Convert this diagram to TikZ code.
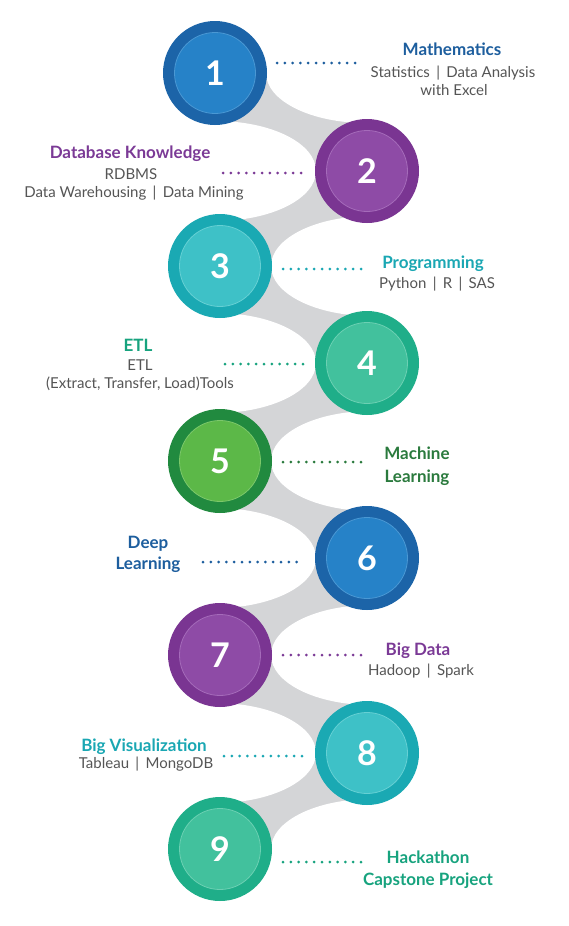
\documentclass[tikz,border=0pt]{standalone}
\usepackage{fontspec}
\setmainfont{Lato}
\definecolor{bandgrey}{HTML}{D4D5D7}
\definecolor{blueO}{HTML}{1C64A8}\definecolor{blueI}{HTML}{2682C8}\definecolor{blueR}{HTML}{4A98D4}
\definecolor{purO}{HTML}{7A3592}\definecolor{purI}{HTML}{8E4BA6}\definecolor{purR}{HTML}{A56BBA}
\definecolor{tealO}{HTML}{1AA9B3}\definecolor{tealI}{HTML}{3EC1C7}\definecolor{tealR}{HTML}{66D0D4}
\definecolor{mintO}{HTML}{1FAE89}\definecolor{mintI}{HTML}{42C19D}\definecolor{mintR}{HTML}{6CD0B3}
\definecolor{grnO}{HTML}{218A3F}\definecolor{grnI}{HTML}{5CB848}\definecolor{grnR}{HTML}{7CC86A}
\definecolor{tBlue}{HTML}{1D5E9E}\definecolor{tPur}{HTML}{7B3A96}\definecolor{tTeal}{HTML}{1AA7B3}
\definecolor{tMint}{HTML}{17A37E}\definecolor{tGrn}{HTML}{2A7A3D}\definecolor{body}{HTML}{555555}
\tikzset{
  outerc/.style={circle,inner sep=0pt,minimum size=104pt},
  innerc/.style={circle,inner sep=0pt,minimum size=81pt,line width=0.8pt,text=white,
     font=\bfseries\fontsize{34}{34}\selectfont},
  ttl/.style={anchor=base,inner sep=0pt,font=\bfseries\fontsize{17}{17}\selectfont},
  bdy/.style={anchor=base,inner sep=0pt,text=body,font=\fontsize{15}{15}\selectfont},
  dots/.style={line width=3pt,line cap=round,dash pattern=on 0pt off 7.8pt},
}
\begin{document}
\begin{tikzpicture}[x=1pt,y=-1pt]
\useasboundingbox (0,0) rectangle (568,926);
\fill[white] (0,0) rectangle (568,926);
% grey band
\fill[bandgrey] (218,73) rectangle (367,849);
% white cut-outs
\foreach \y/\x in {73/215,266/220,461/220,655/220,849/220}
  \fill[white] (\x+51+100,\y) ellipse [x radius=100, y radius=50];
\foreach \y in {171,363,558,753}
  \fill[white] (367-51-100,\y) ellipse [x radius=100, y radius=50];
% circles
\node[outerc,fill=blueO] (c1) at (215,73) {};
\node[innerc,fill=blueI,draw=blueR] (n1) at (c1) {1};
\node[outerc,fill=purO] (c2) at (367,171) {};
\node[innerc,fill=purI,draw=purR] (n2) at (c2) {2};
\node[outerc,fill=tealO] (c3) at (220,266) {};
\node[innerc,fill=tealI,draw=tealR] (n3) at (c3) {3};
\node[outerc,fill=mintO] (c4) at (367,363) {};
\node[innerc,fill=mintI,draw=mintR] (n4) at (c4) {4};
\node[outerc,fill=grnO] (c5) at (220,461) {};
\node[innerc,fill=grnI,draw=grnR] (n5) at (c5) {5};
\node[outerc,fill=blueO] (c6) at (367,558) {};
\node[innerc,fill=blueI,draw=blueR] (n6) at (c6) {6};
\node[outerc,fill=purO] (c7) at (220,655) {};
\node[innerc,fill=purI,draw=purR] (n7) at (c7) {7};
\node[outerc,fill=tealO] (c8) at (367,753) {};
\node[innerc,fill=tealI,draw=tealR] (n8) at (c8) {8};
\node[outerc,fill=mintO] (c9) at (220,849) {};
\node[innerc,fill=mintI,draw=mintR] (n9) at (c9) {9};
% dotted leaders
\coordinate (d1a) at (277,63); \coordinate (d1b) at (355,63);
\coordinate (d2a) at (223,173); \coordinate (d2b) at (302,173);
\coordinate (d3a) at (283,269); \coordinate (d3b) at (361,269);
\coordinate (d4a) at (225,364); \coordinate (d4b) at (304,364);
\coordinate (d5a) at (283,462); \coordinate (d5b) at (361,462);
\coordinate (d6a) at (203,562); \coordinate (d6b) at (302,562);
\coordinate (d7a) at (283,655); \coordinate (d7b) at (361,655);
\coordinate (d8a) at (224,756); \coordinate (d8b) at (303,756);
\coordinate (d9a) at (283,862); \coordinate (d9b) at (361,862);
\draw[dots,tBlue] (d1a) -- (d1b);
\draw[dots,tPur] (d2a) -- (d2b);
\draw[dots,tTeal] (d3a) -- (d3b);
\draw[dots,tMint] (d4a) -- (d4b);
\draw[dots,tGrn] (d5a) -- (d5b);
\draw[dots,tBlue] (d6a) -- (d6b);
\draw[dots,tPur] (d7a) -- (d7b);
\draw[dots,tTeal] (d8a) -- (d8b);
\draw[dots,tMint] (d9a) -- (d9b);
% texts
\node[ttl,text=tBlue] (t1) at (452,55) {Mathematics};
\node[bdy] (b1a) at (453,77) {Statistics \,|\, Data Analysis};
\node[bdy] (b1b) at (454,95) {with Excel};
\node[ttl,text=tPur] (t2) at (130,158) {Database Knowledge};
\node[bdy] (b2a) at (131,179) {RDBMS};
\node[bdy] (b2b) at (134,197) {Data Warehousing \,|\, Data Mining};
\node[ttl,text=tTeal] (t3) at (433,268) {Programming};
\node[bdy] (b3a) at (437,288) {Python \,|\, R \,|\, SAS};
\node[ttl,text=tMint] (t4) at (138,351) {ETL};
\node[bdy] (b4a) at (140,370) {ETL};
\node[bdy] (b4b) at (140,388) {(Extract, Transfer, Load)Tools};
\node[ttl,text=tGrn] (t5a) at (417,459) {Machine};
\node[ttl,text=tGrn] (t5b) at (417,482) {Learning};
\node[ttl,text=tBlue] (t6a) at (148,548) {Deep};
\node[ttl,text=tBlue] (t6b) at (148,569) {Learning};
\node[ttl,text=tPur] (t7) at (418,655) {Big Data};
\node[bdy] (b7a) at (421,675) {Hadoop \,|\, Spark};
\node[ttl,text=tTeal] (t8) at (144,751) {Big Visualization};
\node[bdy] (b8a) at (146,768) {Tableau \,|\, MongoDB};
\node[ttl,text=tMint] (t9a) at (428,863) {Hackathon};
\node[ttl,text=tMint] (t9b) at (428,885) {Capstone Project};
\end{tikzpicture}
\end{document}
